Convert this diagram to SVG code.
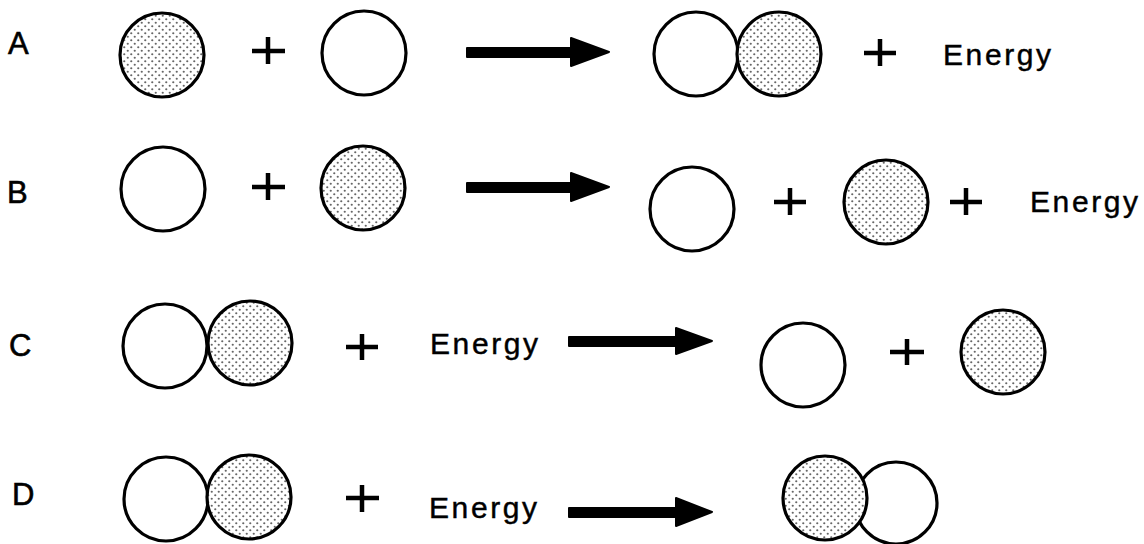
<svg xmlns="http://www.w3.org/2000/svg" width="1144" height="544" viewBox="0 0 1144 544">
<defs>
<pattern id="dots" width="7" height="7" patternUnits="userSpaceOnUse">
<rect width="7" height="7" fill="#ffffff"/>
<circle cx="1.75" cy="1.75" r="1.1" fill="#666"/>
<circle cx="5.25" cy="5.25" r="1.1" fill="#666"/>
</pattern>
<style>
.w{fill:#fff;stroke:#000;stroke-width:3.2}
.s{fill:url(#dots);stroke:#000;stroke-width:3.2}
.pl{stroke:#000;stroke-width:4.5;fill:none}
.t{font-family:"Liberation Sans",Arial,sans-serif;font-size:30px;fill:#000;stroke:#000;stroke-width:0.45;letter-spacing:2.6px}
.lb{font-family:"Liberation Sans",Arial,sans-serif;font-size:31px;fill:#000;stroke:#000;stroke-width:0.6}
.ar{fill:#000;stroke:#000;stroke-width:2;stroke-linejoin:round}
</style>
</defs>
<rect width="1144" height="544" fill="#fff"/>

<g id="labels">
<text class="lb" x="8" y="54">A</text>
<text class="lb" x="7" y="203">B</text>
<text class="lb" x="9" y="356">C</text>
<text class="lb" x="12" y="505">D</text>
</g>

<!-- Row A -->
<g id="rowA">
<g id="A-reactant1"><circle class="s" cx="162" cy="55" r="42"/></g>
<g id="A-plus1"><path class="pl" d="M252 51H285M268 37V64"/></g>
<g id="A-reactant2"><circle class="w" cx="364" cy="53" r="42"/></g>
<g id="A-product"><circle class="w" cx="696" cy="54" r="42"/><circle class="s" cx="779" cy="54" r="42"/></g>
<g id="A-plus2"><path class="pl" d="M864 53H896M880 39V66"/></g>
<g id="A-energy"><text class="t" x="943" y="65">Energy</text></g>
</g>

<!-- Row B -->
<g id="rowB">
<g id="B-reactant1"><circle class="w" cx="163" cy="189" r="42"/></g>
<g id="B-plus1"><path class="pl" d="M252 187H285M268 173V200"/></g>
<g id="B-reactant2"><circle class="s" cx="363" cy="188" r="42"/></g>
<g id="B-product1"><circle class="w" cx="692" cy="209" r="42"/></g>
<g id="B-plus2"><path class="pl" d="M774 202H806M790 188V215"/></g>
<g id="B-product2"><circle class="s" cx="886" cy="202" r="42"/></g>
<g id="B-plus3"><path class="pl" d="M950 202H982M966 188V215"/></g>
<g id="B-energy"><text class="t" x="1030" y="212">Energy</text></g>
</g>

<!-- Row C -->
<g id="rowC">
<g id="C-reactant"><circle class="w" cx="165" cy="346" r="42"/><circle class="s" cx="250" cy="343" r="42"/></g>
<g id="C-plus1"><path class="pl" d="M346 347H378M362 334V360"/></g>
<g id="C-energy"><text class="t" x="430" y="354">Energy</text></g>
<g id="C-product1"><circle class="w" cx="803" cy="365" r="42"/></g>
<g id="C-plus2"><path class="pl" d="M890 352H924M907 339V365"/></g>
<g id="C-product2"><circle class="s" cx="1003" cy="352" r="42"/></g>
</g>

<!-- Row D -->
<g id="rowD">
<g id="D-reactant"><circle class="w" cx="166" cy="499" r="42"/><circle class="s" cx="249" cy="497" r="42"/></g>
<g id="D-plus1"><path class="pl" d="M346 498H379M362 485V512"/></g>
<g id="D-energy"><text class="t" x="429" y="518">Energy</text></g>
<g id="D-product"><circle class="w" cx="896" cy="503" r="41"/><circle class="s" cx="825" cy="498" r="42"/></g>
</g>

<g id="connectors">
<path class="ar" d="M467 48H571V38L609 52L571 66V57H467Z"/>
<path class="ar" d="M467 183H571V173L609 187L571 201V192H467Z"/>
<path class="ar" d="M569 337H676V328L712 341L676 354V346H569Z"/>
<path class="ar" d="M569 508H676V498L712 512L676 526V517H569Z"/>
</g>
</svg>
